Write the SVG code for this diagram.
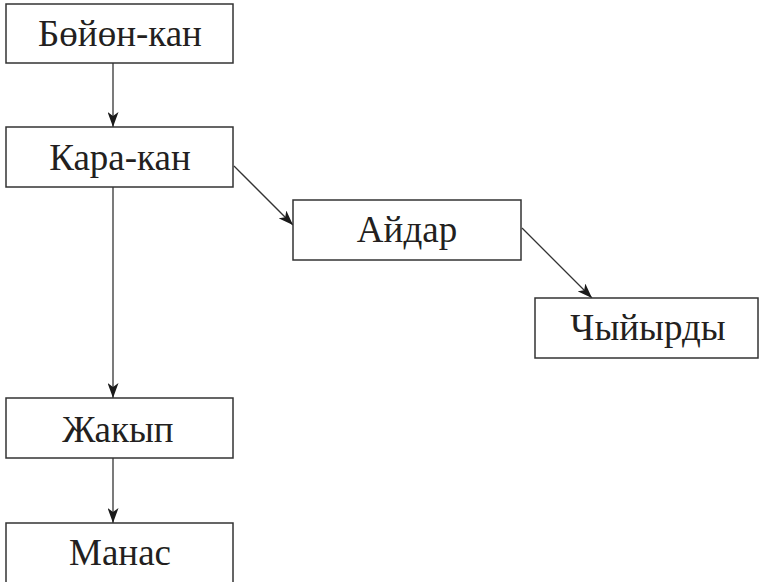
<svg xmlns="http://www.w3.org/2000/svg" width="759" height="582" viewBox="0 0 759 582">
<style>
.box{fill:#fff;stroke:#333;stroke-width:1.5}
.lbl{font-family:"Liberation Serif","Times New Roman",serif;font-size:37px;fill:#231f20;text-anchor:middle}
.conn{stroke:#333;stroke-width:1.3;fill:none;marker-end:url(#arr)}
</style>
<defs>
<marker id="arr" viewBox="0 0 15 11" refX="15" refY="5.5" markerWidth="15" markerHeight="11" markerUnits="userSpaceOnUse" orient="auto">
<path d="M0,0 L15,5.5 L0,11 L4,5.5 z" fill="#1a1a1a"/>
</marker>
</defs>
<rect width="759" height="582" fill="#fff"/>
<g id="connectors">
<line class="conn" x1="113" y1="63" x2="113" y2="127"/>
<line class="conn" x1="113" y1="187" x2="113" y2="398"/>
<line class="conn" x1="113" y1="458" x2="113" y2="523"/>
<line class="conn" x1="234" y1="166" x2="293" y2="225"/>
<line class="conn" x1="522" y1="228" x2="592" y2="298"/>
</g>
<g id="n1"><rect class="box" x="6" y="4" width="227" height="59"/><text class="lbl" x="120" y="46">Бөйөн-кан</text></g>
<g id="n2"><rect class="box" x="6" y="127" width="227" height="60"/><text class="lbl" x="120" y="170">Кара-кан</text></g>
<g id="n3"><rect class="box" x="293" y="200" width="228" height="60"/><text class="lbl" x="407" y="242">Айдар</text></g>
<g id="n4"><rect class="box" x="535" y="298" width="223" height="60"/><text class="lbl" x="648" y="340">Чыйырды</text></g>
<g id="n5"><rect class="box" x="6" y="398" width="227" height="60"/><text class="lbl" x="118" y="442">Жакып</text></g>
<g id="n6"><rect class="box" x="6" y="523" width="227" height="62"/><text class="lbl" x="120" y="565">Манас</text></g>
</svg>
